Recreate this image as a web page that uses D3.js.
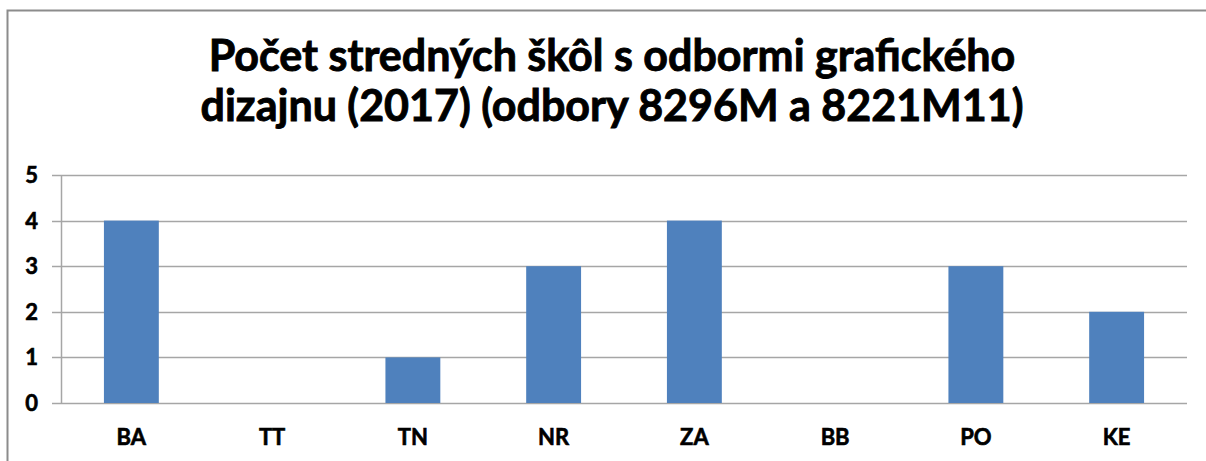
<!DOCTYPE html>
<html>
<head>
<meta charset="utf-8" />
<title>Počet stredných škôl</title>
<script src="https://cdn.jsdelivr.net/npm/d3@7"></script>
<style>
  body { margin: 0; background: #fff; }
  text { font-family: Lato, "Open Sans", sans-serif; font-weight: bold; fill: #000;
         stroke: #000; stroke-width: 0.6px; }
</style>
</head>
<body>
<div id="chart"></div>
<script>
const regions = ["BA", "TT", "TN", "NR", "ZA", "BB", "PO", "KE"];
const schools = [4, 0, 1, 3, 4, 0, 3, 2];
const yTicks = [0, 1, 2, 3, 4, 5];
const titleLines = ["Počet stredných škôl s odbormi grafického", "dizajnu (2017) (odbory 8296M a 8221M11)"];

const W = 1206, H = 461;
const plot = { left: 61, right: 1187, top: 175, bottom: 403 };

const svg = d3.select("#chart").append("svg")
  .attr("width", W).attr("height", H);

// outer chart frame
svg.append("rect")
  .attr("x", 7.5).attr("y", 10.5)
  .attr("width", 1230).attr("height", 480)
  .attr("fill", "none").attr("stroke", "#8c8c8c").attr("stroke-width", 2);

// title, fitted to the measured width
const title = svg.append("g");
title.selectAll("text").data(titleLines).enter().append("text")
  .attr("x", 612).attr("y", (d, i) => 71 + i * 50)
  .attr("text-anchor", "middle")
  .style("font-size", "36px")
  .style("stroke-width", "0.9px")
  .text(d => d);
const target = 807;
const first = title.select("text").node();
const fs = 36 * target / first.getComputedTextLength();
title.selectAll("text").style("font-size", fs.toFixed(2) + "px");

const x = d3.scaleBand().domain(regions).range([plot.left, plot.right]);
const y = d3.scaleLinear().domain([0, 5]).range([plot.bottom, plot.top]);
const barW = x.bandwidth() * 0.39;

// gridlines
svg.append("g").selectAll("line").data(yTicks).enter().append("line")
  .attr("x1", plot.left - 9).attr("x2", plot.right)
  .attr("y1", d => Math.round(y(d)) + 0.5).attr("y2", d => Math.round(y(d)) + 0.5)
  .attr("stroke", "#a6a6a6").attr("stroke-width", 1.5);

// y axis line
svg.append("line")
  .attr("x1", plot.left + 0.5).attr("x2", plot.left + 0.5)
  .attr("y1", plot.top).attr("y2", plot.bottom)
  .attr("stroke", "#a6a6a6").attr("stroke-width", 1.5);

// bars
svg.append("g").selectAll("rect").data(regions).enter().append("rect")
  .attr("x", (d, i) => x(d) + (x.bandwidth() - barW) / 2)
  .attr("width", barW)
  .attr("y", (d, i) => y(schools[i]))
  .attr("height", (d, i) => y(0) - y(schools[i]))
  .attr("fill", "#4f81bd");

// y tick labels
svg.append("g").selectAll("text").data(yTicks).enter().append("text")
  .attr("x", 38).attr("y", d => y(d) + 8)
  .attr("text-anchor", "end")
  .style("font-size", "22px")
  .text(d => d);

// x labels
svg.append("g").selectAll("text").data(regions).enter().append("text")
  .attr("x", d => x(d) + x.bandwidth() / 2).attr("y", 445)
  .attr("text-anchor", "middle")
  .style("font-size", "22px")
  .text(d => d);
</script>
</body>
</html>
